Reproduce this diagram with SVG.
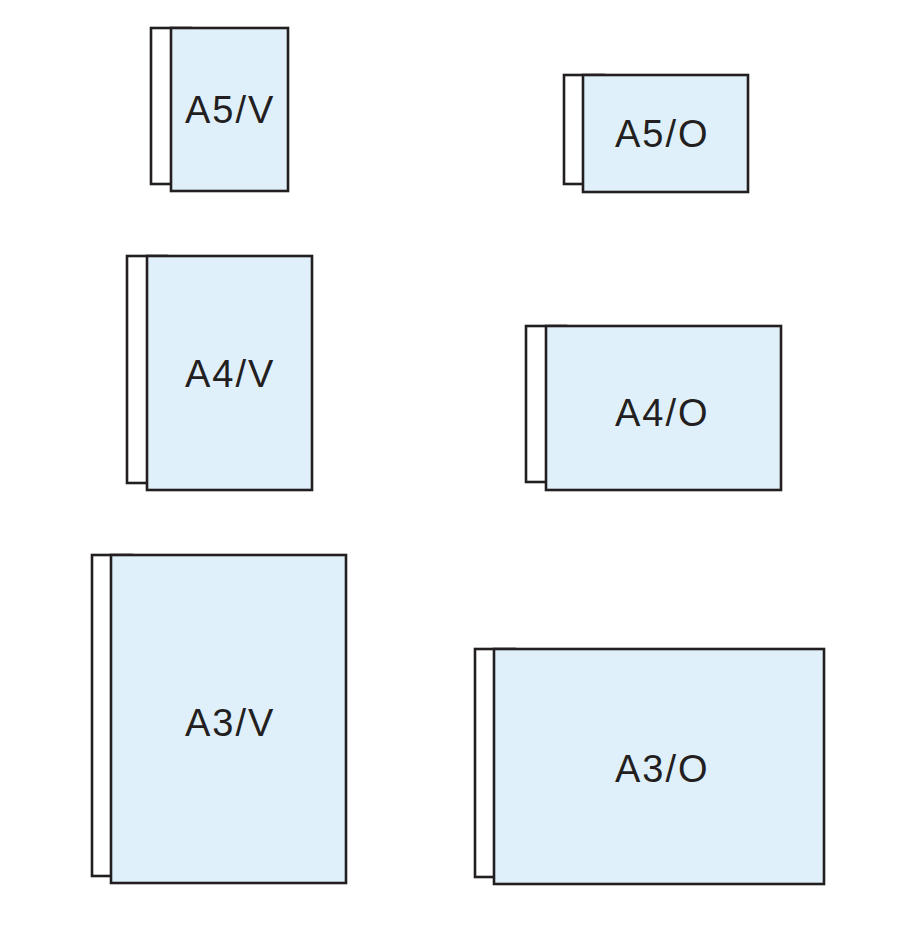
<svg xmlns="http://www.w3.org/2000/svg" width="923" height="941" viewBox="0 0 923 941">
<style>
.back{fill:#ffffff;stroke:#231f20;stroke-width:2.6}
.front{fill:#dff0fb;stroke:#231f20;stroke-width:2.6}
.lbl{font-family:"Liberation Sans","DejaVu Sans",sans-serif;font-size:38px;letter-spacing:2px;fill:#231f20}
</style>
<rect width="923" height="941" fill="#ffffff"/>
<g id="a5v">
<rect class="back" x="151" y="28" width="40" height="156"/>
<rect class="front" x="171" y="28" width="117" height="163"/>
<text class="lbl" x="185" y="123">A5/V</text>
</g>
<g id="a5o">
<rect class="back" x="564" y="75" width="40" height="109"/>
<rect class="front" x="583" y="75" width="165" height="117"/>
<text class="lbl" x="615" y="147">A5/O</text>
</g>
<g id="a4v">
<rect class="back" x="127" y="256" width="40" height="227"/>
<rect class="front" x="147" y="256" width="165" height="234"/>
<text class="lbl" x="185" y="387">A4/V</text>
</g>
<g id="a4o">
<rect class="back" x="526" y="326" width="40" height="156"/>
<rect class="front" x="546" y="326" width="235" height="164"/>
<text class="lbl" x="615" y="426">A4/O</text>
</g>
<g id="a3v">
<rect class="back" x="92" y="555" width="40" height="321"/>
<rect class="front" x="111" y="555" width="235" height="328"/>
<text class="lbl" x="185" y="736">A3/V</text>
</g>
<g id="a3o">
<rect class="back" x="475" y="649" width="40" height="228"/>
<rect class="front" x="494" y="649" width="330" height="235"/>
<text class="lbl" x="615" y="782">A3/O</text>
</g>
<g id="connectors"/>
</svg>
